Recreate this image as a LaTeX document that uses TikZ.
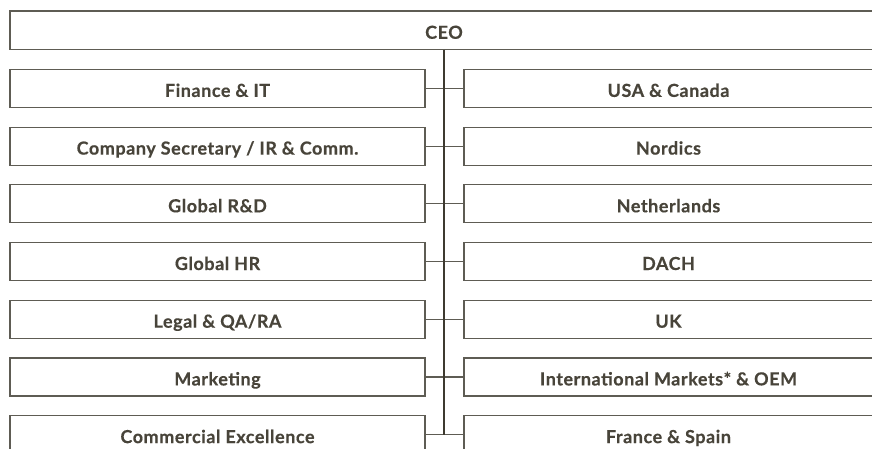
\documentclass[tikz,border=0pt]{standalone}
\usepackage{fontspec}
\setmainfont{Lato}[BoldFeatures={FakeBold=0.4,LetterSpace=3}]
\definecolor{txt}{HTML}{48443A}
\definecolor{bord}{HTML}{5E5C54}
\definecolor{spinec}{HTML}{3E3A30}
\begin{document}
\begin{tikzpicture}[x=1pt,y=-1pt,
  box/.style={draw=bord,line width=1.2pt,rectangle,inner sep=0pt,
    text=txt,font=\fontsize{18}{21}\selectfont\bfseries,minimum height=38pt,
    text height=17pt,text depth=0pt},
  lbox/.style={box,minimum width=415pt},
  rbox/.style={box,minimum width=409pt},
  link/.style={draw=bord,line width=1.2pt}]
\useasboundingbox (0,0) rectangle (872,448);
\clip (0,0) rectangle (872,448);
\node[box,minimum width=868pt,minimum height=38.5pt] (ceo) at (444,30.3) {CEO};
\def\pitch{57.7}
\foreach \i/\lt/\rt in {0/{Finance \& IT}/{USA \& Canada},
  1/{Company Secretary / IR \& Comm.}/{Nordics},
  2/{Global R\&D}/{Netherlands},
  3/{Global HR}/{DACH},
  4/{Legal \& QA/RA}/{UK},
  5/{Marketing}/{International Markets* \& OEM},
  6/{Commercial Excellence}/{France \& Spain}}{
  \node[lbox] (l\i) at (217.5,88.4+\i*\pitch) {\lt};
  \node[rbox] (r\i) at (668.5,88.4+\i*\pitch) {\rt};
  \draw[link] (l\i.east) -- (r\i.west);
}
\coordinate (top) at (444,49.5);
\coordinate (bot) at (l6.east -| top);
\draw[draw=spinec,line width=1.2pt] (top) -- (bot);
\end{tikzpicture}
\end{document}
